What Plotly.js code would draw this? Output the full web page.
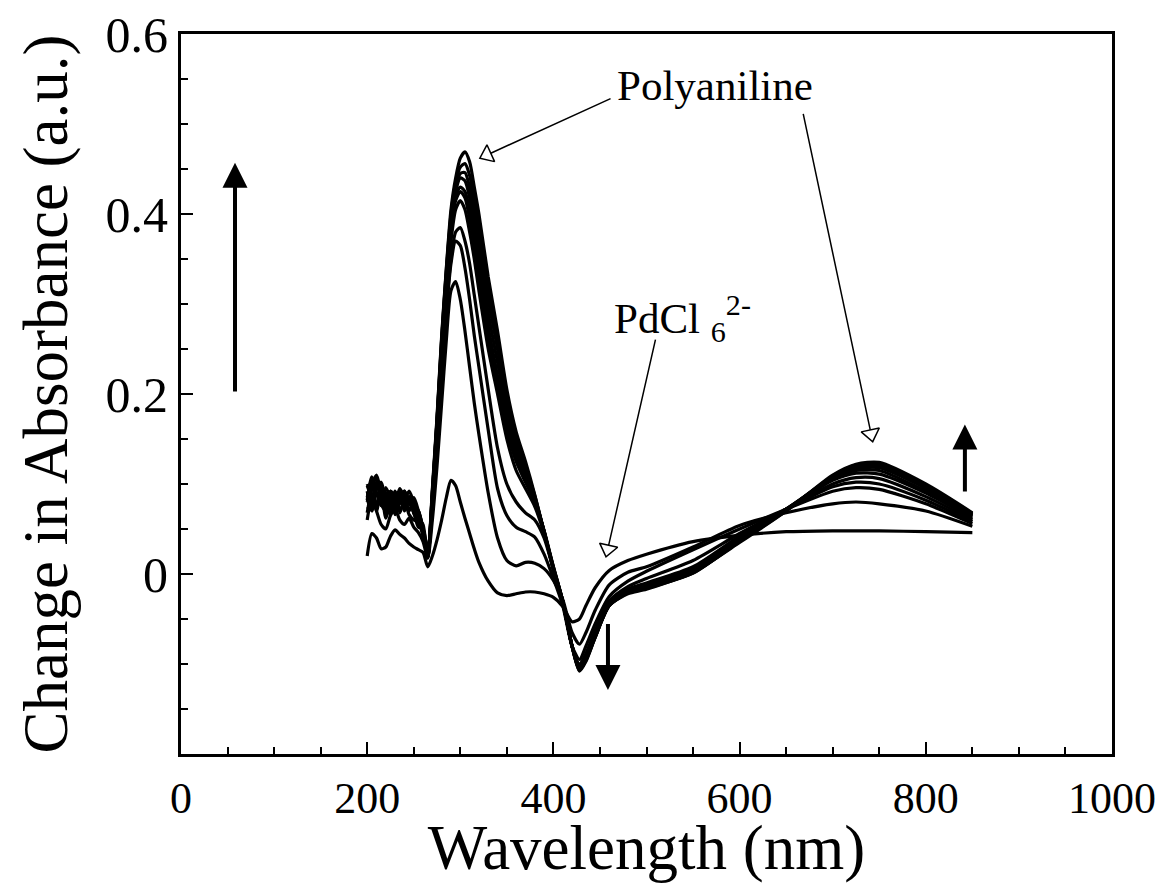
<!DOCTYPE html>
<html>
<head>
<meta charset="utf-8">
<script src="https://cdn.plot.ly/plotly-3.0.1.min.js"></script>
<style>html,body{margin:0;padding:0;background:#fff;}#plot{width:1156px;height:883px;}</style>
</head>
<body>
<div id="plot"></div>
<script>
// Wavelength grid (nm)
const wavelength = [200,205,210,215,220,225,230,235,240,245,250,255,260,265,
  270,275,280,285,290,295,300,305,310,315,320,
  330,340,350,360,370,380,390,400,410,420,
  428,435,445,460,480,500,
  550,600,650,700,725,750,800,850];

// Change in absorbance spectra, earliest (s0) to latest (s10)
const s0 = [0.020,0.045,0.040,0.028,0.030,0.042,0.049,0.044,0.040,0.034,0.030,0.027,0.024,0.008,
  0.020,0.038,0.060,0.085,0.104,0.098,0.080,0.062,0.045,0.028,0.013,
  -0.008,-0.021,-0.024,-0.022,-0.020,-0.020,-0.022,-0.026,-0.036,-0.053,
  -0.050,-0.035,-0.015,0.004,0.015,0.022,
  0.036,0.043,0.047,0.048,0.048,0.048,0.047,0.046];
const s1 = [0.060,0.085,0.070,0.055,0.050,0.065,0.072,0.060,0.055,0.062,0.052,0.046,0.036,0.018,
  0.060,0.120,0.190,0.260,0.315,0.325,0.305,0.270,0.230,0.190,0.155,
  0.090,0.040,0.015,0.009,0.013,0.012,0.006,-0.007,-0.028,-0.065,
  -0.078,-0.065,-0.040,-0.012,0.002,0.008,
  0.030,0.054,0.068,0.078,0.080,0.078,0.070,0.053];
const s2 = [0.085,0.105,0.070,0.092,0.062,0.080,0.088,0.068,0.082,0.066,0.060,0.058,0.042,0.022,
  0.070,0.140,0.220,0.290,0.345,0.370,0.365,0.340,0.305,0.265,0.230,
  0.160,0.095,0.065,0.052,0.047,0.041,0.022,-0.005,-0.035,-0.080,
  -0.095,-0.080,-0.055,-0.025,-0.008,0.003,
  0.027,0.050,0.072,0.092,0.096,0.094,0.078,0.056];
const s3 = [0.068,0.095,0.108,0.078,0.070,0.090,0.072,0.092,0.070,0.082,0.068,0.052,0.050,0.025,
  0.075,0.145,0.225,0.295,0.350,0.380,0.385,0.370,0.345,0.310,0.275,
  0.205,0.140,0.100,0.080,0.068,0.060,0.040,0.005,-0.030,-0.080,
  -0.100,-0.088,-0.062,-0.030,-0.014,-0.005,
  0.015,0.045,0.072,0.097,0.102,0.100,0.082,0.058];
const s4 = [0.078,0.082,0.100,0.092,0.078,0.066,0.092,0.078,0.088,0.070,0.082,0.062,0.055,0.020,
  0.080,0.155,0.240,0.310,0.370,0.405,0.415,0.405,0.380,0.350,0.315,
  0.250,0.200,0.150,0.115,0.095,0.075,0.045,0.008,-0.030,-0.080,
  -0.102,-0.090,-0.065,-0.033,-0.017,-0.010,
  0.008,0.042,0.072,0.100,0.107,0.106,0.086,0.060];
const s5 = [0.092,0.070,0.095,0.102,0.084,0.078,0.070,0.086,0.092,0.078,0.074,0.070,0.050,0.020,
  0.085,0.160,0.245,0.320,0.380,0.415,0.425,0.418,0.395,0.365,0.330,
  0.265,0.210,0.160,0.125,0.102,0.080,0.048,0.008,-0.030,-0.080,
  -0.104,-0.092,-0.067,-0.034,-0.018,-0.012,
  0.005,0.040,0.072,0.104,0.112,0.111,0.090,0.062];
const s6 = [0.100,0.088,0.078,0.096,0.090,0.072,0.080,0.092,0.078,0.086,0.068,0.060,0.045,0.018,
  0.085,0.165,0.250,0.325,0.385,0.420,0.430,0.425,0.405,0.375,0.340,
  0.275,0.220,0.168,0.130,0.106,0.082,0.048,0.007,-0.030,-0.080,
  -0.105,-0.093,-0.068,-0.034,-0.019,-0.013,
  0.003,0.039,0.072,0.106,0.115,0.115,0.092,0.064];
const s7 = [0.082,0.108,0.090,0.076,0.096,0.084,0.066,0.080,0.092,0.080,0.074,0.064,0.050,0.020,
  0.090,0.170,0.255,0.330,0.390,0.425,0.440,0.437,0.418,0.390,0.355,
  0.290,0.235,0.180,0.138,0.110,0.083,0.047,0.006,-0.030,-0.080,
  -0.106,-0.094,-0.069,-0.035,-0.020,-0.014,
  0.002,0.038,0.072,0.107,0.117,0.118,0.095,0.065];
const s8 = [0.072,0.078,0.102,0.084,0.078,0.092,0.086,0.072,0.080,0.092,0.080,0.070,0.050,0.020,
  0.090,0.170,0.260,0.335,0.395,0.430,0.445,0.446,0.430,0.402,0.370,
  0.305,0.250,0.190,0.145,0.115,0.085,0.047,0.005,-0.031,-0.080,
  -0.107,-0.095,-0.070,-0.035,-0.021,-0.015,
  0.001,0.037,0.071,0.108,0.119,0.120,0.097,0.066];
const s9 = [0.098,0.084,0.072,0.100,0.084,0.078,0.090,0.086,0.072,0.086,0.068,0.060,0.048,0.018,
  0.092,0.172,0.262,0.338,0.400,0.435,0.452,0.456,0.443,0.415,0.385,
  0.318,0.260,0.198,0.152,0.120,0.087,0.047,0.005,-0.031,-0.080,
  -0.107,-0.096,-0.070,-0.035,-0.021,-0.016,
  0.001,0.036,0.070,0.109,0.121,0.122,0.099,0.067];
const s10 = [0.080,0.100,0.110,0.090,0.074,0.092,0.080,0.095,0.085,0.080,0.085,0.070,0.050,0.020,
  0.095,0.175,0.265,0.340,0.405,0.440,0.462,0.469,0.458,0.430,0.400,
  0.330,0.270,0.205,0.158,0.125,0.088,0.046,0.005,-0.032,-0.080,
  -0.108,-0.097,-0.070,-0.035,-0.022,-0.017,
  0.002,0.035,0.070,0.110,0.122,0.124,0.100,0.068];

const spectra = [s0,s1,s2,s3,s4,s5,s6,s7,s8,s9,s10];

// Axis ticks
const xTickVals = [0,200,400,600,800,1000];
const yTickVals = [0,0.2,0.4,0.6];
const yTickText = ['0','0.2','0.4','0.6'];

const FONT = '"Liberation Serif", "Times New Roman", Times, serif';

const W = 1156, H = 883;
const margin = {l:181, r:44, t:34, b:129};
const xRange = [0,1000], yRange = [-0.2,0.6];
const pxX = (W - margin.l - margin.r) / (xRange[1]-xRange[0]);
const pxY = (H - margin.t - margin.b) / (yRange[1]-yRange[0]);

const traces = spectra.map(s => ({
  x: wavelength, y: s, type: 'scatter', mode: 'lines',
  line: {color: '#000', width: 3.2, shape: 'spline', smoothing: 0.7},
  hoverinfo: 'skip', showlegend: false
}));

// Open-headed label arrows: [tailX, tailY, tipX, tipY]
const openArrows = [
  [463, 0.529, 321, 0.462],
  [668, 0.513, 743, 0.147],
  [510, 0.262, 456.5, 0.019]
];
// Solid arrows: [x, tailY, tipY]
const solidArrows = [
  [58, 0.201, 0.457],
  [458.6, -0.054, -0.129],
  [842, 0.09, 0.166]
];

const annotations = [];
const mx = [], my = [], mang = [];
const R = 8; // marker half size
openArrows.forEach(([x0,y0,x1,y1]) => {
  const dx = (x1-x0)*pxX, dy = -(y1-y0)*pxY;
  const n = Math.hypot(dx,dy), ux = dx/n, uy = dy/n;
  const ang = Math.atan2(dx, -dy)*180/Math.PI;
  mx.push(x1 - ux*R/pxX); my.push(y1 + uy*R/pxY); mang.push(ang);
  const bx = x1 - ux*1.5*R/pxX, by = y1 + uy*1.5*R/pxY;
  annotations.push({x: bx, y: by, ax: x0, ay: y0, xref:'x', yref:'y', axref:'x', ayref:'y',
    text:'', showarrow:true, arrowhead:0, arrowwidth:1.5, arrowcolor:'#000', standoff:0});
});
traces.push({x: mx, y: my, type:'scatter', mode:'markers', hoverinfo:'skip', showlegend:false,
  marker:{symbol:'triangle-up', size:2*R, angle: mang, color:'#fff', line:{color:'#000', width:1.5}}});

solidArrows.forEach(([x, y0, y1]) => {
  annotations.push({x: x, y: y1, ax: x, ay: y0, xref:'x', yref:'y', axref:'x', ayref:'y',
    text:'', showarrow:true, arrowhead:2, arrowsize:1.25, arrowwidth:4, arrowcolor:'#000', standoff:0});
});

annotations.push({x: 573.6, y: 0.543, xref:'x', yref:'y', text:'Polyaniline', showarrow:false,
  font:{family:FONT, size:43, color:'#000'}, xanchor:'center', yanchor:'middle'});
annotations.push({x: 463, y: 0.284, xref:'x', yref:'y', text:'PdCl <sub>6</sub><sup>2-</sup>', showarrow:false,
  font:{family:FONT, size:43, color:'#000'}, xanchor:'left', yanchor:'middle'});

const layout = {
  width: W, height: H, margin: margin,
  paper_bgcolor:'#fff', plot_bgcolor:'#fff',
  font:{family: FONT, color:'#000'},
  xaxis:{
    range: xRange, showgrid:false, zeroline:false,
    showline:true, linewidth:3, linecolor:'#000', mirror:true,
    tickmode:'array', tickvals: xTickVals, ticks:'inside', ticklen:12, tickwidth:2, tickcolor:'#000',
    minor:{tickmode:'linear', tick0:0, dtick:50, ticks:'inside', ticklen:7, tickwidth:2, tickcolor:'#000'},
    tickfont:{family:FONT, size:44, color:'#000'},
    ticklabelstandoff: 3,
    ticklabeloverflow: 'allow',
    title:{text:'Wavelength (nm)', font:{family:FONT, size:63, color:'#000'}, standoff: 14}
  },
  yaxis:{
    range: yRange, showgrid:false, zeroline:false,
    showline:true, linewidth:3, linecolor:'#000', mirror:true,
    tickmode:'array', tickvals: yTickVals, ticktext: yTickText, ticks:'inside', ticklen:12, tickwidth:2, tickcolor:'#000',
    minor:{tickmode:'linear', tick0:0, dtick:0.05, ticks:'inside', ticklen:7, tickwidth:2, tickcolor:'#000'},
    tickfont:{family:FONT, size:50, color:'#000'},
    ticklabelstandoff: 0,
    ticklabeloverflow: 'allow',
    title:{text:'Change in Absorbance (a.u.)', font:{family:FONT, size:63, color:'#000'}, standoff: 18}
  },
  annotations: annotations
};

Plotly.newPlot('plot', traces, layout, {displayModeBar:false, staticPlot:true});
</script>
</body>
</html>
